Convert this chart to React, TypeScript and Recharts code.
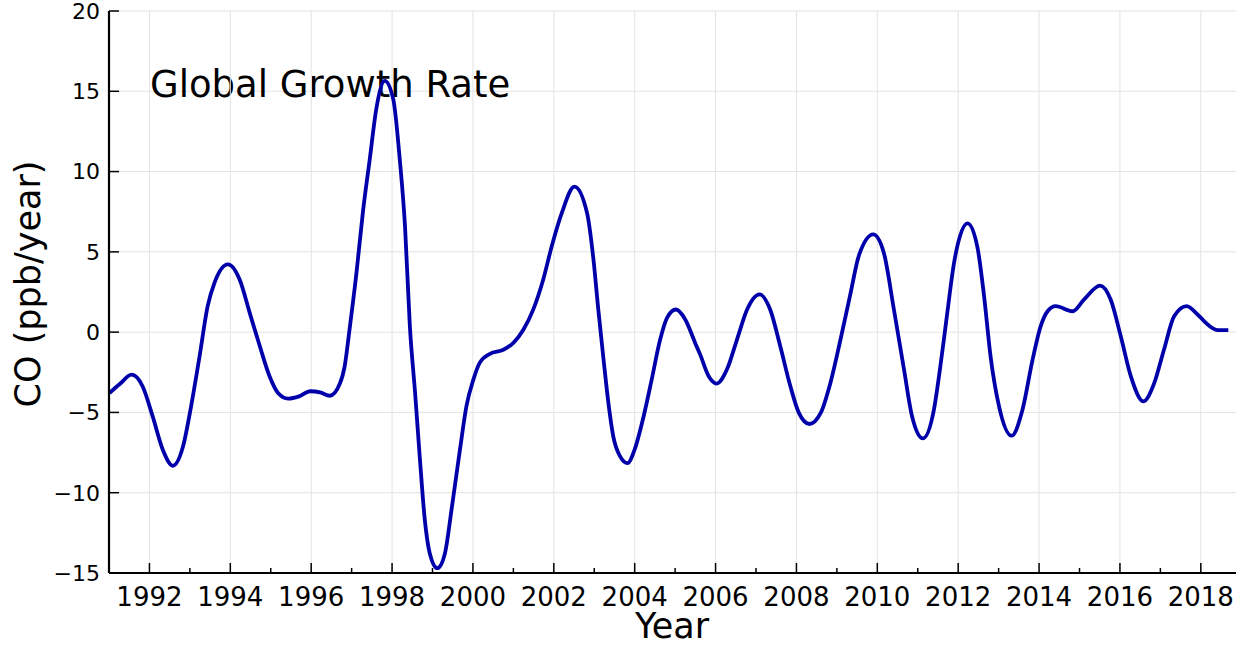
import {
  LineChart, Line, XAxis, YAxis, CartesianGrid, ReferenceLine,
} from 'recharts';

// decimal year of each sample
const years = [
  1991.01, 1991.26, 1991.56, 1991.83,
  1992.08, 1992.33, 1992.58, 1992.83,
  1993.03, 1993.24, 1993.44, 1993.61, 1993.94,
  1994.23, 1994.48, 1994.73, 1994.97,
  1995.18, 1995.43, 1995.7, 1995.98,
  1996.22, 1996.46, 1996.71, 1996.83, 1996.95,
  1997.12, 1997.28, 1997.45, 1997.61, 1997.82,
  1998.03, 1998.19, 1998.32, 1998.44, 1998.57, 1998.69, 1998.81, 1998.93,
  1999.12, 1999.31, 1999.47, 1999.68, 1999.84,
  2000.01, 2000.17, 2000.42, 2000.75,
  2001.0, 2001.25, 2001.49, 2001.74, 2001.95,
  2002.2, 2002.51, 2002.82, 2002.98,
  2003.1, 2003.23, 2003.35, 2003.47, 2003.64, 2003.82,
  2004.0, 2004.22, 2004.42, 2004.63, 2004.8,
  2005.02, 2005.25, 2005.5, 2005.62, 2005.83,
  2006.03, 2006.28, 2006.53, 2006.78,
  2007.09, 2007.35, 2007.6, 2007.85,
  2008.06, 2008.32, 2008.6, 2008.84,
  2009.09, 2009.34, 2009.54, 2009.9,
  2010.16, 2010.41, 2010.66, 2010.86,
  2011.13, 2011.4, 2011.55, 2011.72, 2011.89,
  2012.23, 2012.47, 2012.64, 2012.8,
  2013.01, 2013.32, 2013.59, 2013.84,
  2014.04, 2014.21, 2014.41, 2014.83,
  2015.11, 2015.51, 2015.77,
  2016.02, 2016.27, 2016.58, 2016.85,
  2017.09, 2017.34, 2017.65, 2017.92,
  2018.17, 2018.42, 2018.68,
];

// CO growth rate, ppb/year
const growth = [
  -3.8, -3.25, -2.65, -3.37,
  -5.25, -7.32, -8.32, -7.12,
  -4.62, -1.5, 1.62, 3.08, 4.22,
  3.28, 1.2, -0.88, -2.75,
  -3.79, -4.14, -4.0, -3.68,
  -3.75, -3.96, -3.2, -2.1, 0.2,
  3.7, 7.5, 10.8, 13.9, 15.65,
  14.5, 10.77, 6.6, 0.37, -3.8, -7.95, -11.7, -13.75,
  -14.7, -13.75, -11.07, -7.3, -4.6,
  -2.96, -1.9, -1.35, -1.1,
  -0.67, 0.16, 1.4, 3.3, 5.36,
  7.44, 9.06, 7.44, 4.53,
  1.41, -1.71, -4.41, -6.49, -7.74, -8.16,
  -7.3, -5.25, -2.96, -0.46, 0.89,
  1.41, 0.79, -0.7, -1.4, -2.75,
  -3.2, -2.33, -0.46, 1.41,
  2.35, 1.41, -0.88, -3.37,
  -5.03, -5.72, -5.03, -3.16,
  -0.46, 2.45, 4.74, 6.09,
  4.95, 1.41, -2.33, -5.25,
  -6.62, -4.83, -2.3, 1.0, 4.2,
  6.77, 5.36, 2.24, -1.5,
  -4.62, -6.45, -4.83, -1.71,
  0.37, 1.3, 1.62, 1.3,
  2.03, 2.9, 2.03,
  -0.25, -2.75, -4.31, -3.16,
  -1.08, 0.99, 1.62, 1.1,
  0.47, 0.12, 0.12,
];

const yearTicks = [
  1992, 1993, 1994, 1995, 1996, 1997, 1998, 1999, 2000, 2001, 2002, 2003, 2004,
  2005, 2006, 2007, 2008, 2009, 2010, 2011, 2012, 2013, 2014, 2015, 2016, 2017, 2018,
];
const majorYears = yearTicks.filter((y) => y % 2 === 0);
const valueTicks = [-15, -10, -5, 0, 5, 10, 15, 20];

const data = years.map((year, i) => ({ year, co: growth[i] }));

const FONT = '"DejaVu Sans", sans-serif';
const minus = (v: number) => (v < 0 ? '\u2212' + Math.abs(v) : String(v));

function BottomTick(props: any) {
  const { x, y, payload } = props;
  const major = payload.value % 2 === 0;
  return (
    <g>
      <line x1={x} x2={x} y1={y} y2={y - (major ? 10 : 5)} stroke="#000" strokeWidth={1.5} />
      {major && (
        <text x={x} y={y + 33} textAnchor="middle" fontSize={26} fill="#000" fontFamily={FONT}>
          {payload.value}
        </text>
      )}
    </g>
  );
}

function TopTick(props: any) {
  const { x, y, payload } = props;
  const major = payload.value % 2 === 0;
  return <line x1={x} x2={x} y1={y} y2={y + (major ? 10 : 5)} stroke="#000" strokeWidth={1.5} />;
}

function LeftTick(props: any) {
  const { x, y, payload } = props;
  return (
    <g>
      <line x1={x + 9} x2={x + 19} y1={y} y2={y} stroke="#000" strokeWidth={1.5} />
      <text x={x} y={y} dy="0.36em" textAnchor="end" fontSize={22} fill="#000" fontFamily={FONT}>
        {minus(payload.value)}
      </text>
    </g>
  );
}

function RightTick(props: any) {
  const { x, y } = props;
  return <line x1={x} x2={x - 10} y1={y} y2={y} stroke="#000" strokeWidth={1.5} />;
}

export default function App() {
  return (
    <div style={{ position: 'absolute', left: 0, top: 0, fontFamily: FONT }}>
      <LineChart
        width={1236}
        height={647}
        data={data}
        margin={{ top: 11, right: 0, bottom: 0, left: 0 }}
        style={{ fontFamily: FONT }}
      >
        <CartesianGrid vertical={false} stroke="#e3e3e3" xAxisId="bottom" yAxisId="left" />
        {majorYears.map((yr) => (
          <ReferenceLine key={yr} x={yr} xAxisId="bottom" yAxisId="left" stroke="#e3e3e3" />
        ))}
        <XAxis
          xAxisId="bottom"
          dataKey="year"
          type="number"
          domain={[1991, 2018.87]}
          allowDataOverflow
          ticks={yearTicks}
          interval={0}
          height={74}
          tickSize={0}
          tickMargin={0}
          tick={<BottomTick />}
          axisLine={{ stroke: '#000', strokeWidth: 2.2 }}
        />
        <XAxis
          xAxisId="top"
          orientation="top"
          dataKey="year"
          type="number"
          domain={[1991, 2018.87]}
          allowDataOverflow
          ticks={yearTicks}
          interval={0}
          height={0}
          tickSize={0}
          tickMargin={0}
          tick={<TopTick />}
          axisLine={{ stroke: '#000', strokeWidth: 2.2 }}
        />
        <YAxis
          yAxisId="left"
          type="number"
          domain={[-15, 20]}
          allowDataOverflow
          ticks={valueTicks}
          interval={0}
          width={109}
          tickSize={0}
          tickMargin={9}
          tick={<LeftTick />}
          axisLine={{ stroke: '#000', strokeWidth: 2.2 }}
        />
        <YAxis
          yAxisId="right"
          orientation="right"
          type="number"
          domain={[-15, 20]}
          allowDataOverflow
          ticks={valueTicks}
          interval={0}
          width={0}
          tickSize={0}
          tickMargin={0}
          tick={<RightTick />}
          axisLine={{ stroke: '#000', strokeWidth: 2.2 }}
        />
        <Line
          xAxisId="bottom"
          yAxisId="left"
          type="monotone"
          dataKey="co"
          stroke="#0000aa"
          strokeWidth={3.8}
          dot={false}
          activeDot={false}
          isAnimationActive={false}
        />
        <text x={150} y={97} fontSize={37} fill="#000" fontFamily={FONT}>
          Global Growth Rate
        </text>
        <text x={672} y={638} fontSize={35} textAnchor="middle" fill="#000" fontFamily={FONT}>
          Year
        </text>
        <text
          x={40}
          y={284}
          fontSize={35}
          textAnchor="middle"
          fill="#000"
          fontFamily={FONT}
          transform="rotate(-90 40 284)"
        >
          CO (ppb/year)
        </text>
      </LineChart>
    </div>
  );
}
